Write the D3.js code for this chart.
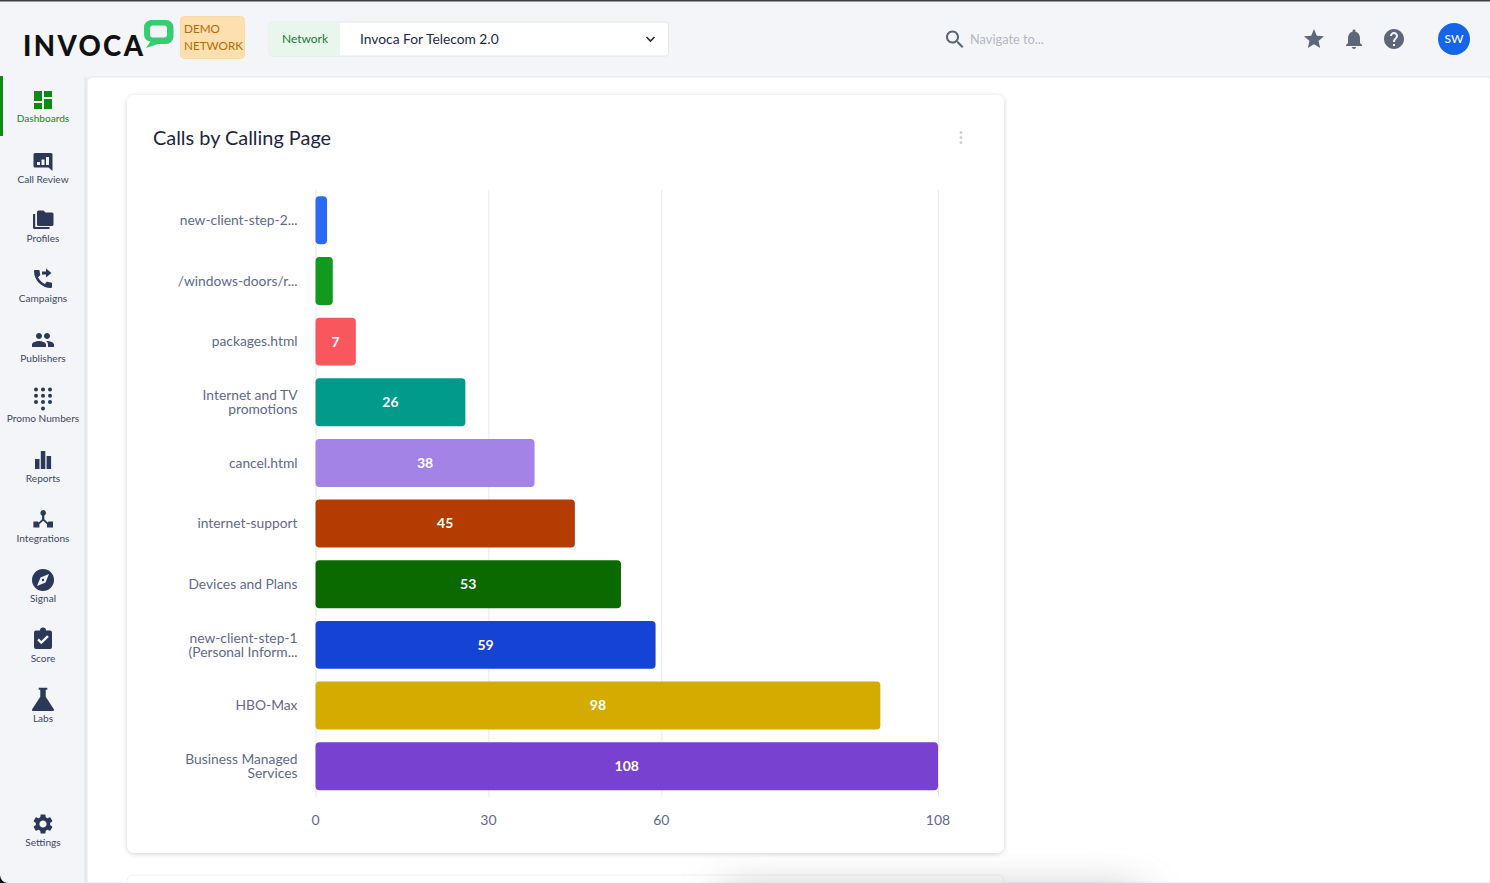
<!DOCTYPE html>
<html>
<head>
<meta charset="utf-8">
<title>Calls by Calling Page</title>
<script src="https://cdn.jsdelivr.net/npm/d3@7"></script>
<style>
    html, body { margin: 0; padding: 0; background: #f4f5f9; overflow: hidden; }
    svg { display: block; font-family: Lato, "Open Sans", sans-serif; }
    .axis text { font-family: Lato, sans-serif; font-size: 14px; fill: #5e6a8c; }
    .grid-line { stroke: #e7e8ec; stroke-width: 1; }
</style>
</head>
<body>
<svg id="page" width="1490" height="883"></svg>
<script>
// chart data, bottom of the file does the drawing
const categories = [
    "new-client-step-2...",
    "/windows-doors/r...",
    "packages.html",
    "Internet and TV\npromotions",
    "cancel.html",
    "internet-support",
    "Devices and Plans",
    "new-client-step-1\n(Personal Inform...",
    "HBO-Max",
    "Business Managed\nServices",
];
const values = [2, 3, 7, 26, 38, 45, 53, 59, 98, 108];
const barColors = ["#2a6af6", "#12991f", "#f9575e", "#009b8b", "#a383e6",
    "#b43c00", "#0a6a00", "#1443d6", "#d6ab00", "#7841d0"];
const xTicks = [0, 30, 60, 108];
const minLabelValue = 5;

const navItems = [
    {label: "Dashboards", icon: "dashboard", iconY: 100, labelY: 122, active: true},
    {label: "Call Review", icon: "review", iconY: 162, labelY: 183},
    {label: "Profiles", icon: "folder", iconY: 219, labelY: 242},
    {label: "Campaigns", icon: "phone", iconY: 279, labelY: 302},
    {label: "Publishers", icon: "people", iconY: 340, labelY: 362},
    {label: "Promo Numbers", icon: "dialpad", iconY: 399, labelY: 422},
    {label: "Reports", icon: "bars", iconY: 460, labelY: 482},
    {label: "Integrations", icon: "hub", iconY: 520, labelY: 542},
    {label: "Signal", icon: "compass", iconY: 580, labelY: 602},
    {label: "Score", icon: "score", iconY: 639, labelY: 662},
    {label: "Labs", icon: "flask", iconY: 699, labelY: 722, size: 26},
    {label: "Settings", icon: "settings", iconY: 824, labelY: 846},
];

const icons = {
    dashboard: "M3 13h8V3H3v10zm0 8h8v-6H3v6zm10 0h8V11h-8v10zm0-18v6h8V3h-8z",
    review: "M4 3h16a1.5 1.5 0 0 1 1.5 1.5V21l-4-3.5H4A1.5 1.5 0 0 1 2.5 16V4.500A1.500 1.500 0 0 1 4 3zM6 12v3h3v-3zM10.500 9.500V15h3V9.500zM15 7v8h3V7z",
    folder: "M7.500 3.500h5l2 2H21a1.500 1.500 0 0 1 1.500 1.500v10.500A1.500 1.500 0 0 1 21 19H7.500A1.500 1.500 0 0 1 6 17.500V5a1.500 1.500 0 0 1 1.500-1.500zM2 7h2.200v13h14.300v2H3.500A1.500 1.500 0 0 1 2 20.500z",
    phone: "M20.010 15.380c-1.230 0-2.420-.2-3.530-.56-.35-.12-.74-.03-1.010.24l-1.570 1.970c-2.830-1.350-5.480-3.900-6.890-6.830l1.950-1.660c.27-.28.35-.67.24-1.020-.37-1.110-.56-2.300-.56-3.530 0-.54-.45-.99-.99-.99H4.190C3.650 3 3 3.240 3 3.990 3 13.280 10.730 21 20.010 21c.71 0 .99-.63.99-1.180v-3.450c0-.54-.45-.99-.99-.99zM15 1.500l5.500 4.500L15 10.500V7.500h-4v-3h4z",
    people: "M16 11c1.660 0 2.990-1.340 2.990-3S17.660 5 16 5c-1.660 0-3 1.340-3 3s1.340 3 3 3zm-8 0c1.660 0 2.990-1.340 2.990-3S9.660 5 8 5C6.340 5 5 6.340 5 8s1.340 3 3 3zm0 2c-2.330 0-7 1.170-7 3.500V19h14v-2.500c0-2.330-4.670-3.500-7-3.500zm8 0c-.29 0-.62.02-.97.05 1.160.84 1.970 1.970 1.970 3.450V19h6v-2.500c0-2.330-4.670-3.500-7-3.500z",
    bars: "M4 11h4.500v10H4zM9.800 3h4.500v18H9.800zM15.600 8h4.500v13h-4.500z",
    hub: "M12 2a3 3 0 0 1 1.300 5.700v3.600l3.300 3.100 1-.9h4.400v6h-6v-3.300l-3.800-3.500-3.800 3.500V19.500h-6v-6h4.400l1 .9 3.300-3.100V7.700A3 3 0 0 1 12 2z",
    score: "M5 3.500h4a3 3 0 0 1 6 0h4A2 2 0 0 1 21 5.500V20a2 2 0 0 1-2 2H5a2 2 0 0 1-2-2V5.500a2 2 0 0 1 2-2zM10.300 17.300l7.500-7.300-1.700-1.700-5.800 5.600-2.400-2.300L6.200 13.300z",
    flask: "M8 1.500h8v2h-1.500v6.500L22 21.500a1 1 0 0 1-.9 1.500H2.900a1 1 0 0 1-.9-1.500L9.500 10V3.500H8z",
    settings: "M19.140 12.940c.04-.3.06-.61.06-.94 0-.32-.02-.64-.07-.94l2.030-1.580c.18-.14.23-.41.12-.61l-1.920-3.320c-.12-.22-.37-.29-.59-.22l-2.390.96c-.5-.38-1.030-.7-1.620-.94l-.36-2.540c-.04-.24-.24-.41-.48-.41h-3.840c-.24 0-.43.17-.47.41l-.36 2.540c-.59.24-1.130.57-1.620.94l-2.390-.96c-.22-.08-.47 0-.59.22L2.740 8.870c-.12.21-.08.47.12.61l2.030 1.580c-.05.3-.09.63-.09.94s.02.64.07.94l-2.030 1.580c-.18.14-.23.41-.12.61l1.920 3.320c.12.22.37.29.59.22l2.390-.96c.5.38 1.030.7 1.620.94l.36 2.540c.05.24.24.41.48.41h3.840c.24 0 .44-.17.47-.41l.36-2.540c.59-.24 1.130-.56 1.620-.94l2.390.96c.22.08.47 0 .59-.22l1.920-3.320c.12-.22.07-.47-.12-.61l-2.010-1.580zM12 15.600c-1.980 0-3.600-1.620-3.600-3.600s1.620-3.600 3.600-3.600 3.600 1.620 3.600 3.600-1.620 3.600-3.600 3.600z",
    star: "M12 17.270L18.180 21l-1.640-7.030L22 9.240l-7.190-.61L12 2 9.190 8.630 2 9.240l5.460 4.730L5.820 21z",
    bell: "M12 22c1.100 0 2-.9 2-2h-4c0 1.100.9 2 2 2zm6-6v-5c0-3.070-1.630-5.640-4.500-6.320V4c0-.83-.67-1.500-1.500-1.500s-1.500.67-1.500 1.500v.68C7.640 5.360 6 7.920 6 11v5l-2 2v1h16v-1l-2-2z",
    help: "M12 2C6.480 2 2 6.480 2 12s4.480 10 10 10 10-4.480 10-10S17.520 2 12 2zm1 17h-2v-2h2v2zm2.070-7.750l-.9.92C13.450 12.900 13 13.500 13 15h-2v-.5c0-1.100.45-2.100 1.170-2.830l1.240-1.260c.37-.36.59-.86.59-1.410 0-1.100-.9-2-2-2s-2 .9-2 2H8c0-2.210 1.790-4 4-4s4 1.790 4 4c0 .88-.36 1.680-.93 2.250z",
    search: "M15.500 14h-.79l-.28-.27C15.410 12.590 16 11.110 16 9.500 16 5.910 13.090 3 9.500 3S3 5.910 3 9.500 5.910 16 9.500 16c1.610 0 3.090-.59 4.230-1.570l.27.28v.79l5 4.990L20.490 19l-4.990-5zm-6 0C7.010 14 5 11.990 5 9.500S7.010 5 9.500 5 14 7.010 14 9.500 11.990 14 9.500 14z",
};

const navy = "#2c3858";
const green = "#0f8a12";

const svg = d3.select("#page");
const defs = svg.append("defs");

const cardShadow = defs.append("filter").attr("id", "cardShadow")
    .attr("x", "-5%").attr("y", "-5%").attr("width", "110%").attr("height", "110%");
cardShadow.append("feDropShadow").attr("dx", 0).attr("dy", 1).attr("stdDeviation", 2.5)
    .attr("flood-color", "#000").attr("flood-opacity", 0.18);

const softBlur = defs.append("filter").attr("id", "softBlur")
    .attr("x", "-20%").attr("y", "-200%").attr("width", "140%").attr("height", "500%");
softBlur.append("feGaussianBlur").attr("stdDeviation", 22);

function drawIcon(g, name, cx, cy, size, color) {
    const k = size / 24;
    const icon = g.append("g")
        .attr("transform", `translate(${cx - size / 2}, ${cy - size / 2}) scale(${k})`)
        .attr("fill", color);
    if (name === "dialpad") {
        // 3 x 3 keypad plus the zero key
        d3.range(10).forEach(function (i) {
            const col = i === 9 ? 1 : i % 3;
            const row = Math.floor(i / 3);
            icon.append("circle").attr("cx", 5 + col * 7).attr("cy", 2.5 + row * 6.3).attr("r", 2);
        });
    } else if (name === "compass") {
        icon.append("circle").attr("cx", 12).attr("cy", 12).attr("r", 11);
        icon.append("path").attr("fill", "#f4f5f9")
            .attr("d", "M18 6L14.500 14.500 6 18 9.500 9.500z");
        icon.append("circle").attr("cx", 12).attr("cy", 12).attr("r", 1.2);
    } else {
        icon.append("path").attr("d", icons[name]);
    }
}

// page background
svg.append("rect").attr("width", 1490).attr("height", 883).attr("fill", "#f4f5f9");
svg.append("rect").attr("width", 1490).attr("height", 1.5).attr("fill", "#3f3f3f");
svg.append("path").attr("d", "M0 875V883H8A8 8 0 0 1 0 875z").attr("fill", "#000");

// white content pane
svg.append("path")
    .attr("d", "M87 883V82a5 5 0 0 1 5-5H1490V883z")
    .attr("fill", "#fff")
    .attr("stroke", "#e4e5e9");
svg.append("rect").attr("x", 84).attr("y", 77).attr("width", 3).attr("height", 806)
    .attr("fill", "#e3e4e8").attr("opacity", 0.6);

// header
const header = svg.append("g");
header.append("text").attr("x", 23).attr("y", 55.500)
    .attr("font-size", 27.500).attr("font-weight", 900).attr("letter-spacing", 2.400)
    .attr("fill", "#111").text("INVOCA");
header.append("path")
    .attr("d", "M151 20h15a7.500 7.500 0 0 1 7.500 7.500v9a7.500 7.500 0 0 1-7.500 7.500h-8l-12 4 4.500-6.500a7.500 7.500 0 0 1-6.500-6v-8a7.500 7.500 0 0 1 7-7.500zm2 5.500a3 3 0 0 0-3 3v6a3 3 0 0 0 3 3h11a3 3 0 0 0 3-3v-6a3 3 0 0 0-3-3z")
    .attr("fill", "#38cc70").attr("fill-rule", "evenodd");

header.append("rect").attr("x", 180.500).attr("y", 16.500).attr("width", 64).attr("height", 42).attr("rx", 4)
    .attr("fill", "#fedfb0").attr("stroke", "#fbd9a6");
header.append("text").attr("x", 184).attr("y", 33).attr("font-size", 11.700).attr("fill", "#b86a00").text("DEMO");
header.append("text").attr("x", 184).attr("y", 50).attr("font-size", 11.700).attr("fill", "#b86a00").text("NETWORK");

header.append("rect").attr("x", 269).attr("y", 22).attr("width", 399.500).attr("height", 34).attr("rx", 3)
    .attr("fill", "#fff").attr("stroke", "#e5e6ea");
header.append("path").attr("d", "M272 22h68v34h-68a3 3 0 0 1-3-3V25a3 3 0 0 1 3-3z").attr("fill", "#e8f6ec");
header.append("text").attr("x", 305).attr("y", 43).attr("text-anchor", "middle")
    .attr("font-size", 12).attr("fill", "#1a7a32").text("Network");
header.append("text").attr("x", 360).attr("y", 44).attr("font-size", 13.800).attr("fill", "#1e2a44")
    .text("Invoca For Telecom 2.0");
header.append("path").attr("d", "M646.500 37l4 4 4-4").attr("fill", "none")
    .attr("stroke", "#1e2a44").attr("stroke-width", 1.600);

drawIcon(header, "search", 955, 39.500, 24, "#596277");
header.append("text").attr("x", 970).attr("y", 44).attr("font-size", 12.800).attr("fill", "#b4b8c2").text("Navigate to...");
drawIcon(header, "star", 1314, 39, 24, "#5e6679");
drawIcon(header, "bell", 1354, 39, 24, "#5e6679");
drawIcon(header, "help", 1394, 39, 24, "#5e6679");
header.append("circle").attr("cx", 1454).attr("cy", 39).attr("r", 16).attr("fill", "#1565e8");
header.append("text").attr("x", 1454).attr("y", 43).attr("text-anchor", "middle")
    .attr("font-size", 12).attr("font-weight", 500).attr("fill", "#fff").text("SW");

// sidebar
const nav = svg.append("g");
nav.append("rect").attr("x", 0).attr("y", 76).attr("width", 3).attr("height", 60).attr("fill", green);
navItems.forEach(function (item) {
    drawIcon(nav, item.icon, 43, item.iconY, item.size || 24, item.active ? green : navy);
    nav.append("text")
        .attr("x", 43).attr("y", item.labelY).attr("text-anchor", "middle")
        .attr("font-size", 10.100).attr("fill", item.active ? green : "#3c4763")
        .text(item.label);
});

// next card peeking out at the bottom, with the soft shadow over it
svg.append("path").attr("d", "M127 883V881a6 6 0 0 1 6-6H998a6 6 0 0 1 6 6V883z")
    .attr("fill", "#fff").attr("stroke", "#f1f1f3");
svg.append("rect").attr("x", 720).attr("y", 895).attr("width", 420).attr("height", 30)
    .attr("fill", "#777").attr("opacity", 0.6).attr("filter", "url(#softBlur)");

// card
svg.append("rect").attr("x", 127).attr("y", 95).attr("width", 877).attr("height", 758).attr("rx", 8)
    .attr("fill", "#fff").attr("filter", "url(#cardShadow)");
svg.append("text").attr("x", 153).attr("y", 145).attr("font-size", 19.900).attr("fill", "#1b2540")
    .text("Calls by Calling Page");
[-5, 0, 5].forEach(function (dy) {
    svg.append("circle").attr("cx", 961).attr("cy", 137.500 + dy).attr("r", 1.500).attr("fill", "#ccd0d8");
});

// chart
const margin = {left: 315.500, top: 190, right: 552, bottom: 86};
const width = 1490 - margin.left - margin.right;
const height = 883 - margin.top - margin.bottom;

const x = d3.scaleLinear().domain([0, d3.max(values)]).range([0, width]);
const y = d3.scaleBand().domain(categories).range([0, height - 0.500]).paddingInner(0.21).paddingOuter(0.105);
const color = d3.scaleOrdinal().domain(categories).range(barColors);

const chart = svg.append("g").attr("transform", `translate(${margin.left}, ${margin.top})`);
const rows = categories.map(function (c, i) { return {label: c, value: values[i]}; });

const xAxis = chart.append("g").attr("class", "axis")
    .attr("transform", `translate(0, ${height})`)
    .call(d3.axisBottom(x).tickValues(xTicks).tickFormat(d3.format("d")).tickSize(-height).tickPadding(18));
xAxis.select(".domain").remove();
xAxis.selectAll(".tick line").attr("class", "grid-line");
xAxis.selectAll(".tick text").attr("dx", -0.500);

const bars = chart.selectAll(".bar").data(rows).enter().append("g").attr("class", "bar");
bars.append("rect")
    .attr("x", 0)
    .attr("y", function (d) { return y(d.label); })
    .attr("width", function (d) { return x(d.value); })
    .attr("height", y.bandwidth())
    .attr("rx", 4)
    .attr("fill", function (d) { return color(d.label); });

bars.filter(function (d) { return d.value >= minLabelValue; })
    .append("text")
    .attr("x", function (d) { return x(d.value) / 2; })
    .attr("y", function (d) { return y(d.label) + y.bandwidth() / 2; })
    .attr("dy", ".35em")
    .attr("text-anchor", "middle")
    .attr("font-size", 14)
    .attr("font-weight", 700)
    .attr("fill", "#fff")
    .text(function (d) { return d.value; });

// category labels, wrapped ones sit on two lines
const yLabels = chart.selectAll(".cat-label").data(rows).enter().append("text")
    .attr("class", "cat-label")
    .attr("text-anchor", "end")
    .attr("font-size", 13.800)
    .attr("fill", "#5e6a8c")
    .attr("transform", function (d) {
        return `translate(-18, ${y(d.label) + y.bandwidth() / 2})`;
    });
yLabels.each(function (d) {
    const lines = d.label.split("\n");
    const text = d3.select(this);
    lines.forEach(function (line, i) {
        text.append("tspan").attr("x", 0)
            .attr("y", (i - (lines.length - 1) / 2) * 14)
            .attr("dy", ".35em")
            .text(line);
    });
});
</script>
</body>
</html>
